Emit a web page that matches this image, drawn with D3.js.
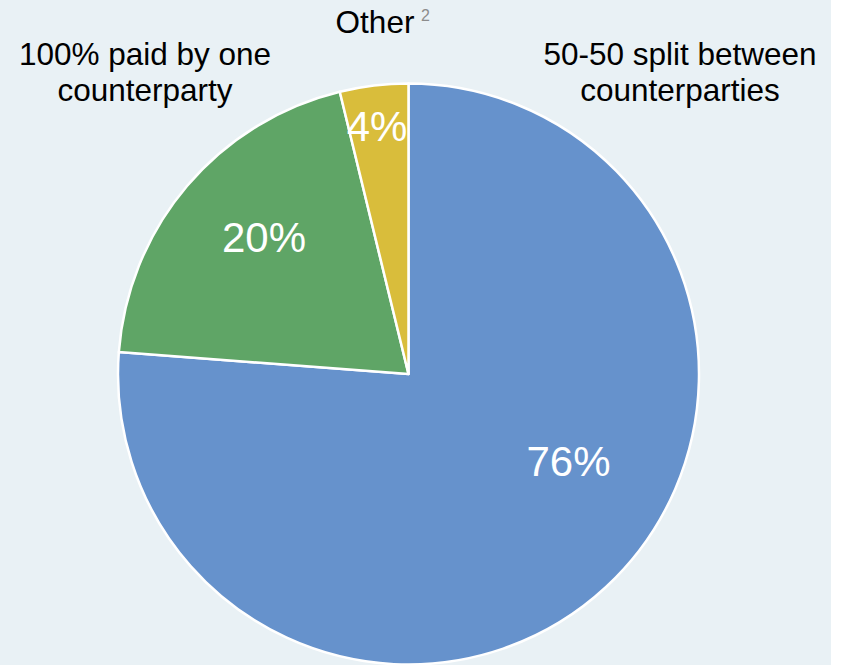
<!DOCTYPE html>
<html>
<head>
<meta charset="utf-8">
<script src="https://cdn.jsdelivr.net/npm/d3@7/dist/d3.min.js"></script>
<style>
  html, body { margin: 0; padding: 0; background: #ffffff; }
  svg { display: block; }
</style>
</head>
<body>
<svg id="chart" width="842" height="665"></svg>
<script>
// ---- Data ----
const categories = ["50-50 split between counterparties", "100% paid by one counterparty", "Other"];
const values = [76.2, 20.0, 3.8];
const colors = ["#6692cc", "#5fa566", "#d9bd3b"];
const categoryLines = [["50-50 split between", "counterparties"], ["100% paid by one", "counterparty"], ["Other"]];
const footnote = "2";

// ---- Layout ----
const W = 842, H = 665;
const cx = 408.5, cy = 374, R = 290.5;
const svg = d3.select("#chart");

svg.append("rect").attr("x", 0).attr("y", 0).attr("width", 831).attr("height", H).attr("fill", "#e9f1f5");

const data = categories.map((c, i) => ({ name: c, value: values[i], color: colors[i], lines: categoryLines[i] }));

const pie = d3.pie().value(d => d.value).sort(null);
const arcs = pie(data);
const arc = d3.arc().innerRadius(0).outerRadius(R);

const g = svg.append("g").attr("transform", `translate(${cx},${cy})`);
g.selectAll("path").data(arcs).enter().append("path")
  .attr("d", arc)
  .attr("fill", d => d.data.color)
  .attr("stroke", "#ffffff")
  .attr("stroke-width", 2.5)
  .attr("stroke-linejoin", "round");

// percent labels (positioned relative to the pie)
const pctPos = [[160, 102], [-144.5, -122], [-31.5, -233]];
const fmt = d3.format(".0f");
g.selectAll("text.pct").data(arcs).enter().append("text")
  .attr("class", "pct")
  .attr("x", (d, i) => pctPos[i][0])
  .attr("y", (d, i) => pctPos[i][1])
  .attr("text-anchor", "middle")
  .attr("font-family", "Liberation Sans, Arial, sans-serif")
  .attr("font-size", 42)
  .attr("fill", "#ffffff")
  .text(d => fmt(d.data.value) + "%");

// category labels
const font = "Liberation Sans, Arial, sans-serif";
const catPos = [[680, 65], [145, 65], [375, 33]];
data.forEach((d, i) => {
  const t = svg.append("text")
    .attr("x", catPos[i][0]).attr("y", catPos[i][1])
    .attr("text-anchor", "middle")
    .attr("font-family", font)
    .attr("font-size", 31.5)
    .attr("fill", "#000000");
  d.lines.forEach((ln, j) => {
    t.append("tspan").attr("x", catPos[i][0]).attr("dy", j === 0 ? 0 : 35.5).text(ln);
  });
});
svg.append("text")
  .attr("x", 421).attr("y", 21)
  .attr("font-family", font)
  .attr("font-size", 16)
  .attr("fill", "#8c8c8c")
  .text(footnote);
</script>
</body>
</html>
